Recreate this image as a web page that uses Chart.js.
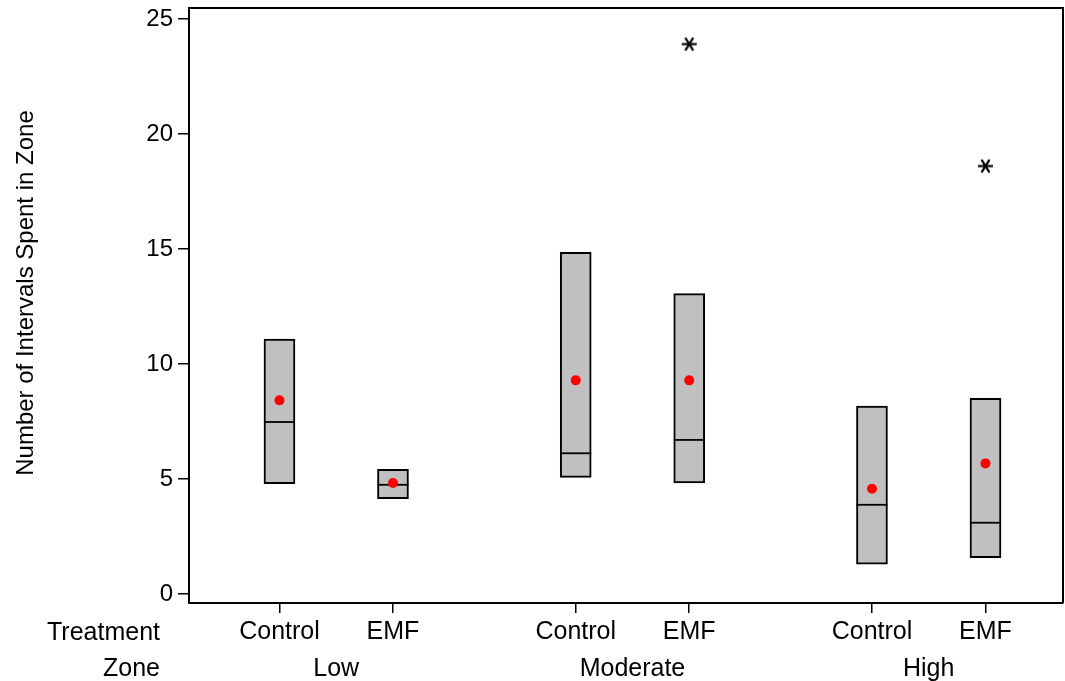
<!DOCTYPE html>
<html>
<head>
<meta charset="utf-8">
<script src="https://cdn.jsdelivr.net/npm/chart.js@4.4.1/dist/chart.umd.min.js"></script>
<style>
  html, body { margin: 0; padding: 0; background: #ffffff; }
  #wrap { width: 1065px; height: 681px; }
</style>
</head>
<body>
<div id="wrap"><canvas id="c" width="1065" height="681"></canvas></div>
<script>
// Interval counts per zone and treatment (box = Q1..Q3, line = median, dot = mean)
const zones = ['Low', 'Moderate', 'High'];
const treatments = ['Control', 'EMF'];
const q1Values = [4.80, 4.15, 5.07, 4.83, 1.30, 1.58];
const medianValues = [7.48, 4.75, 6.12, 6.70, 3.88, 3.10];
const q3Values = [11.09, 5.42, 14.86, 13.06, 8.17, 8.51];
const meanValues = [8.42, 4.83, 9.29, 9.29, 4.58, 5.68];
const outlierValues = [[], [], [], [23.91], [], [18.61]];
const yTickValues = [0, 5, 10, 15, 20, 25];

// Horizontal layout: treatments one unit apart, zones separated by a wider step
const GROUP_STEP = 2.61;
const positions = [];
const treatmentLabels = [];
zones.forEach((z, g) => treatments.forEach((t, i) => {
  positions.push(g * GROUP_STEP + i);
  treatmentLabels.push(t);
}));

const FONT = '"Liberation Sans", Arial, Helvetica, sans-serif';

// Six-armed asterisk used for outlying observations
function makeAsterisk() {
  const s = 19, c = document.createElement('canvas');
  c.width = s; c.height = s;
  const g = c.getContext('2d');
  g.strokeStyle = '#000'; g.lineWidth = 2.2; g.lineCap = 'butt';
  const r = 7.5, m = s / 2;
  [0, 58, 122].forEach(a => {
    const rad = a * Math.PI / 180;
    g.beginPath();
    g.moveTo(m - r * Math.cos(rad), m - r * Math.sin(rad));
    g.lineTo(m + r * Math.cos(rad), m + r * Math.sin(rad));
    g.stroke();
  });
  return c;
}
const asterisk = makeAsterisk();

const boxData = positions.map((x, i) => ({ x: x, y: [q1Values[i], q3Values[i]] }));
const medianData = positions.map((x, i) => ({ x: x, y: medianValues[i] }));
const meanData = positions.map((x, i) => ({ x: x, y: meanValues[i] }));
const outlierData = [];
positions.forEach((x, i) => outlierValues[i].forEach(v => outlierData.push({ x: x, y: v })));

// Frame around the plot area plus the second row of category labels and the y title
const decorations = {
  id: 'decorations',
  afterDraw(chart) {
    const ctx = chart.ctx, a = chart.chartArea, xs = chart.scales.x;
    ctx.save();
    ctx.strokeStyle = '#000';
    ctx.lineWidth = 2;
    ctx.beginPath();
    ctx.moveTo(a.left, a.top);
    ctx.lineTo(a.right, a.top);
    ctx.lineTo(a.right, a.bottom);
    ctx.stroke();

    ctx.fillStyle = '#000';
    ctx.font = '25px ' + FONT;
    ctx.textBaseline = 'alphabetic';
    ctx.textAlign = 'right';
    ctx.fillText('Treatment', 160, 640);
    ctx.fillText('Zone', 160, 676);
    ctx.textAlign = 'center';
    zones.forEach((z, g) => {
      const p0 = xs.getPixelForValue(positions[g * 2]);
      const p1 = xs.getPixelForValue(positions[g * 2 + 1]);
      ctx.fillText(z, (p0 + p1) / 2, 676);
    });

    ctx.font = '24px ' + FONT;
    ctx.translate(33, 293);
    ctx.rotate(-Math.PI / 2);
    ctx.fillText('Number of Intervals Spent in Zone', 0, 0);
    ctx.restore();
  }
};

new Chart(document.getElementById('c'), {
  data: {
    datasets: [
      {
        type: 'bar',
        data: boxData,
        backgroundColor: '#c0c0c0',
        borderColor: '#000',
        borderWidth: 2,
        borderSkipped: false,
        barThickness: 31,
        grouped: false,
        order: 3
      },
      {
        type: 'scatter',
        data: medianData,
        pointStyle: 'line',
        radius: 15.5,
        borderColor: '#000',
        borderWidth: 1.8,
        order: 2
      },
      {
        type: 'scatter',
        data: meanData,
        pointStyle: 'circle',
        radius: 5,
        backgroundColor: '#ff0000',
        borderWidth: 0,
        order: 1
      },
      {
        type: 'scatter',
        data: outlierData,
        pointStyle: asterisk,
        order: 0
      }
    ]
  },
  plugins: [decorations],
  options: {
    responsive: false,
    animation: false,
    devicePixelRatio: 1,
    layout: { autoPadding: false, padding: { top: 8, right: 2, left: 0, bottom: 0 } },
    plugins: { legend: { display: false }, tooltip: { enabled: false } },
    scales: {
      x: {
        type: 'linear',
        position: 'bottom',
        offset: false,
        min: -0.797,
        max: 6.903,
        afterFit(scale) {
          scale.height = 78;
          scale.paddingLeft = 0; scale.paddingRight = 0;
        },
        afterBuildTicks(scale) { scale.ticks = positions.map(v => ({ value: v })); },
        ticks: {
          autoSkip: false,
          maxRotation: 0,
          padding: 4,
          color: '#000',
          font: { family: FONT, size: 25 },
          callback: (v, i) => treatmentLabels[i]
        },
        grid: { offset: false, drawOnChartArea: false, tickLength: 10, color: '#000', lineWidth: 1.5 },
        border: { color: '#000', width: 2 }
      },
      y: {
        type: 'linear',
        min: -0.39,
        max: 25.48,
        afterFit(scale) {
          scale.width = 189;
          scale.paddingTop = 0; scale.paddingBottom = 0;
        },
        afterBuildTicks(scale) { scale.ticks = yTickValues.map(v => ({ value: v })); },
        ticks: {
          padding: 5,
          color: '#000',
          font: { family: FONT, size: 24 }
        },
        grid: { drawOnChartArea: false, tickLength: 11, color: '#000', lineWidth: 1.5 },
        border: { color: '#000', width: 2 }
      }
    }
  }
});
</script>
</body>
</html>
